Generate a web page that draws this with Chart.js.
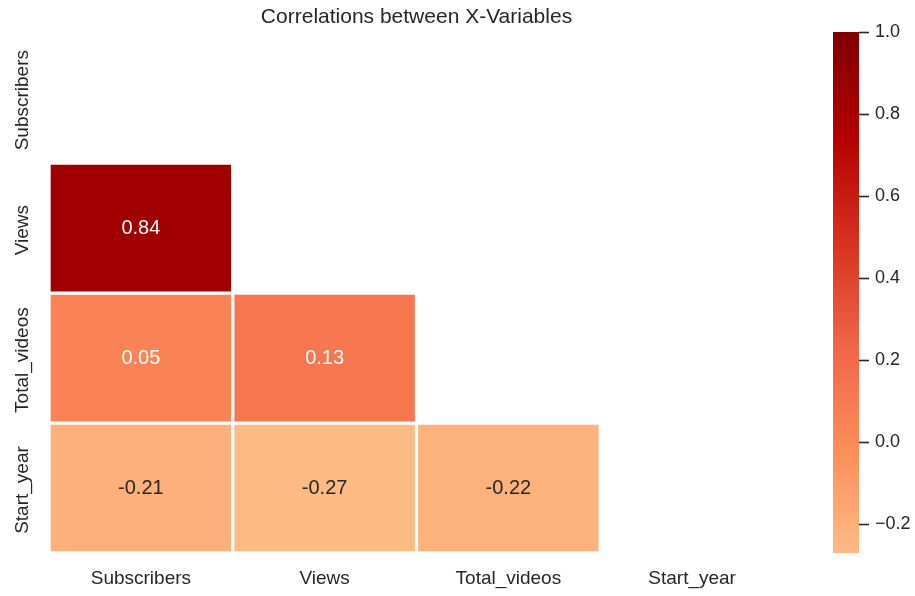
<!DOCTYPE html>
<html>
<head>
<meta charset="utf-8">
<script src="https://cdn.jsdelivr.net/npm/chart.js@4.4.1/dist/chart.umd.min.js"></script>
<style>
  html, body { margin: 0; padding: 0; background: #fff; }
  #wrap { position: relative; width: 915px; height: 596px; }
  #heat { position: absolute; left: 0; top: 0; }
  #cbar { position: absolute; left: 800px; top: 0; }
</style>
</head>
<body>
<div id="wrap">
  <canvas id="heat" width="800" height="596"></canvas>
  <canvas id="cbar" width="115" height="596"></canvas>
</div>
<script>
const variables = ['Subscribers', 'Views', 'Total_videos', 'Start_year']
const corr = [
    [1.00, 0.84, 0.05, -0.21],
    [0.84, 1.00, 0.13, -0.27],
    [0.05, 0.13, 1.00, -0.22],
    [-0.21, -0.27, -0.22, 1.00]
]
const vmin = -0.27
const vmax = 1.0
const cbarTicks = [-0.2, 0.0, 0.2, 0.4, 0.6, 0.8, 1.0]

// upper part of OrRd, spread evenly from vmin to vmax
const ramp = ['#fdbb84', '#fc8d59', '#ef6548', '#d7301f', '#b30000', '#7f0000']
const FONT = "'Liberation Sans', Arial, sans-serif"
const TEXT = '#262626'

function hexRgb(h) {
    return [1, 3, 5].map(i => parseInt(h.slice(i, i + 2), 16))
}

function cmap(v) {
    let t = (v - vmin) / (vmax - vmin)
    t = Math.min(1, Math.max(0, t)) * (ramp.length - 1)
    let i = Math.min(Math.floor(t), ramp.length - 2)
    let f = t - i
    let a = hexRgb(ramp[i]), b = hexRgb(ramp[i + 1])
    let c = a.map((x, k) => Math.round(x + (b[k] - x) * f))
    return 'rgb(' + c.join(',') + ')'
}

function luminance(rgb) {
    let c = rgb.match(/\d+/g).map(Number).map(x => {
        x = x / 255
        return x <= 0.03928 ? x / 12.92 : Math.pow((x + 0.055) / 1.055, 2.4)
    })
    return 0.2126 * c[0] + 0.7152 * c[1] + 0.0722 * c[2]
}

// one dataset per row, lower triangle only
let datasets = variables.map((rowName, r) => ({
    label: rowName,
    data: variables.map((colName, c) => c < r ? [r, r + 1] : null),
    values: variables.map((colName, c) => corr[r][c]),
    backgroundColor: variables.map((colName, c) => cmap(corr[r][c])),
    borderColor: '#ffffff',
    borderWidth: 2,
    borderSkipped: false,
    grouped: false,
    barPercentage: 1,
    categoryPercentage: 1
}))

let cellLabels = {
    id: 'cellLabels',
    afterDatasetsDraw(chart) {
        let ctx = chart.ctx
        ctx.save()
        ctx.font = '20px ' + FONT
        ctx.textAlign = 'center'
        ctx.textBaseline = 'middle'
        chart.data.datasets.forEach((ds, di) => {
            chart.getDatasetMeta(di).data.forEach((bar, i) => {
                if (ds.data[i] == null) return
                let v = ds.values[i]
                ctx.fillStyle = luminance(ds.backgroundColor[i]) > 0.408 ? TEXT : '#ffffff'
                ctx.fillText(v.toFixed(2), bar.x, (bar.y + bar.base) / 2)
            })
        })
        ctx.restore()
    }
}

// y labels are drawn rotated, reading upwards
let rowLabels = {
    id: 'rowLabels',
    afterDraw(chart) {
        let ctx = chart.ctx
        let y = chart.scales.y
        ctx.save()
        ctx.font = '19px ' + FONT
        ctx.fillStyle = TEXT
        ctx.textAlign = 'center'
        ctx.textBaseline = 'middle'
        variables.forEach((name, i) => {
            ctx.save()
            ctx.translate(23, y.getPixelForValue(i + 0.5) + 2)
            ctx.rotate(-Math.PI / 2)
            ctx.fillText(name, 0, 0)
            ctx.restore()
        })
        ctx.restore()
    }
}

new Chart(document.getElementById('heat'), {
    type: 'bar',
    data: { labels: variables, datasets: datasets },
    plugins: [cellLabels, rowLabels],
    options: {
        responsive: false,
        animation: false,
        events: [],
        layout: { padding: { left: 49, right: 16, top: 0, bottom: 2 } },
        plugins: {
            legend: { display: false },
            tooltip: { enabled: false },
            title: {
                display: true,
                text: 'Correlations between X-Variables',
                color: TEXT,
                font: { family: FONT, size: 21, weight: 'normal' },
                padding: { top: 5, bottom: 3 }
            }
        },
        scales: {
            x: {
                offset: true,
                grid: { display: false, drawTicks: false },
                border: { display: false },
                ticks: { color: TEXT, padding: 14, font: { family: FONT, size: 19 } },
                afterFit(scale) {
                    scale.height = 41
                }
            },
            y: {
                type: 'linear',
                min: 0,
                max: variables.length,
                reverse: true,
                display: false
            }
        }
    }
})

// colour bar: a single floating bar filled with the ramp
new Chart(document.getElementById('cbar'), {
    type: 'bar',
    data: {
        labels: [''],
        datasets: [{
            data: [[vmin, vmax]],
            barPercentage: 1,
            categoryPercentage: 1,
            borderWidth: 0,
            backgroundColor(c) {
                let area = c.chart.chartArea
                if (!area) return ramp[0]
                let y = c.chart.scales.y
                let y0 = y.getPixelForValue(vmin), y1 = y.getPixelForValue(vmax)
                let g = c.chart.ctx.createLinearGradient(0, y0, 0, y1)
                ramp.forEach((col, i) => g.addColorStop(i / (ramp.length - 1), col))
                return g
            }
        }]
    },
    options: {
        responsive: false,
        animation: false,
        events: [],
        layout: { padding: { left: 33, right: 0, top: 32, bottom: 43 } },
        plugins: { legend: { display: false }, tooltip: { enabled: false } },
        scales: {
            x: { display: false },
            y: {
                position: 'right',
                min: vmin,
                max: vmax,
                afterBuildTicks(scale) {
                    scale.ticks = cbarTicks.map(v => ({ value: v }))
                },
                afterFit(scale) {
                    scale.width = 56
                },
                grid: {
                    drawOnChartArea: false,
                    drawTicks: true,
                    tickLength: 10,
                    tickWidth: 1.6,
                    tickColor: TEXT
                },
                border: { display: false },
                ticks: {
                    color: TEXT,
                    padding: 6,
                    font: { family: FONT, size: 18 },
                    callback: v => v.toFixed(1).replace('-', '\u2212')
                }
            }
        }
    }
})
</script>
</body>
</html>
